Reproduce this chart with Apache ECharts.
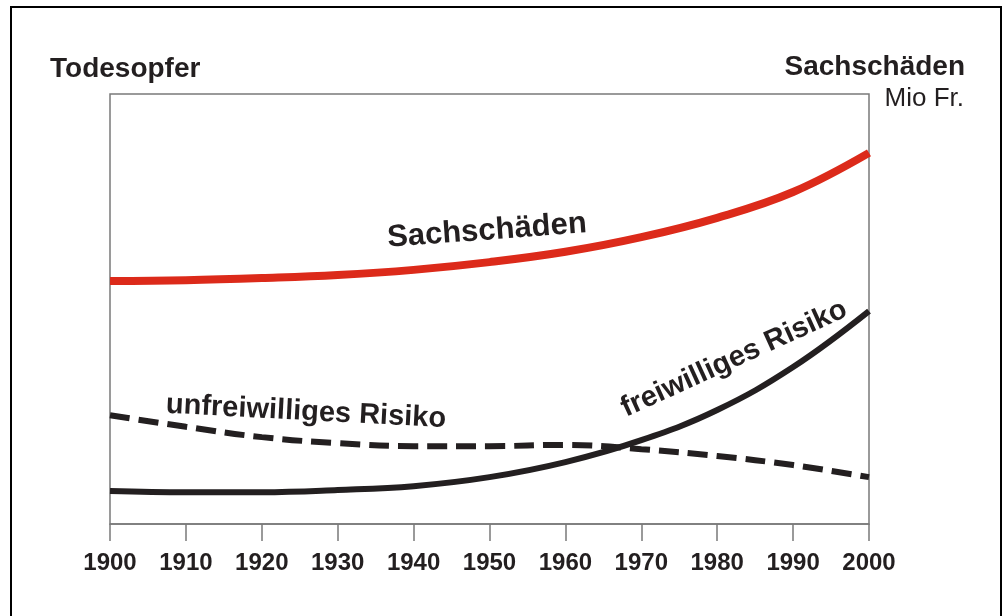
<!DOCTYPE html>
<html>
<head>
<meta charset="utf-8">
<script src="https://cdn.jsdelivr.net/npm/echarts@6/dist/echarts.min.js"></script>
<style>
  html, body { margin: 0; padding: 0; background: #fff; }
  #chart { width: 1005px; height: 616px; }
</style>
</head>
<body>
<div id="chart"></div>
<script>
// Jahre (x-Achse)
const years = [1900, 1910, 1920, 1930, 1940, 1950, 1960, 1970, 1980, 1990, 2000]
const sachschaeden = [56.5, 56.7, 57.2, 57.9, 59.1, 60.9, 63.3, 66.7, 71.2, 77.2, 86.3]
const freiwillig = [7.7, 7.4, 7.4, 7.9, 8.8, 10.9, 14.4, 19.5, 26.5, 36.5, 49.5]
const unfreiwillig = [25.3, 22.6, 20.2, 18.8, 18.1, 18.1, 18.4, 17.4, 15.8, 13.7, 10.9]

const ink = '#231f20'
const axisGrey = '#7a7a7a'
const font = "'Liberation Sans', Arial, sans-serif"

function pairs (vals) {
  return years.map((y, i) => [y, vals[i]])
}

let myChart = echarts.init(document.getElementById('chart'))
myChart.setOption({
  animation: false,
  backgroundColor: '#fff',
  grid: {
    left: 110,
    right: 136,
    top: 94,
    bottom: 92,
    show: true,
    borderColor: axisGrey,
    borderWidth: 1.5
  },
  xAxis: {
    type: 'value',
    min: 1900,
    max: 2000,
    interval: 10,
    axisLine: { show: true, lineStyle: { color: axisGrey, width: 1.5 } },
    axisTick: { show: true, length: 17, lineStyle: { color: axisGrey, width: 1.5 } },
    splitLine: { show: false },
    axisLabel: {
      margin: 27,
      color: ink,
      fontFamily: font,
      fontWeight: 'bold',
      fontSize: 24,
      formatter: (v) => String(v)
    }
  },
  yAxis: {
    type: 'value',
    min: 0,
    max: 100,
    axisLine: { show: false },
    axisTick: { show: false },
    axisLabel: { show: false },
    splitLine: { show: false }
  },
  series: [
    {
      name: 'Sachschäden',
      type: 'line',
      smooth: 0.4,
      symbol: 'none',
      data: pairs(sachschaeden),
      lineStyle: { color: '#dc2a1a', width: 8, cap: 'butt' }
    },
    {
      name: 'freiwilliges Risiko',
      type: 'line',
      smooth: 0.4,
      symbol: 'none',
      data: pairs(freiwillig),
      lineStyle: { color: ink, width: 6, cap: 'butt' }
    },
    {
      name: 'unfreiwilliges Risiko',
      type: 'line',
      smooth: 0.4,
      symbol: 'none',
      data: pairs(unfreiwillig),
      lineStyle: { color: ink, width: 6, type: [20, 9], cap: 'butt' }
    }
  ],
  graphic: [
    {
      type: 'rect',
      shape: { x: 11, y: 7, width: 990, height: 650 },
      style: { fill: 'none', stroke: '#000', lineWidth: 2 },
      silent: true
    },
    {
      type: 'text',
      x: 50, y: 69,
      style: { text: 'Todesopfer', fill: ink, font: 'bold 28px ' + font, align: 'left', verticalAlign: 'middle' }
    },
    {
      type: 'text',
      x: 965, y: 67,
      style: { text: 'Sachschäden', fill: ink, font: 'bold 28px ' + font, align: 'right', verticalAlign: 'middle' }
    },
    {
      type: 'text',
      x: 964, y: 99,
      style: { text: 'Mio Fr.', fill: ink, font: '26px ' + font, align: 'right', verticalAlign: 'middle' }
    },
    {
      type: 'text',
      x: 487, y: 231,
      rotation: 0.073,
      style: { text: 'Sachschäden', fill: ink, font: 'bold 31px ' + font, align: 'center', verticalAlign: 'middle' }
    },
    {
      type: 'text',
      x: 306, y: 412,
      rotation: -0.052,
      style: { text: 'unfreiwilliges Risiko', fill: ink, font: 'bold 29px ' + font, align: 'center', verticalAlign: 'middle' }
    },
    {
      type: 'text',
      x: 734, y: 359,
      rotation: 0.428,
      style: { text: 'freiwilliges Risiko', fill: ink, font: 'bold 29px ' + font, align: 'center', verticalAlign: 'middle' }
    }
  ]
})
myChart.resize()
</script>
</body>
</html>
